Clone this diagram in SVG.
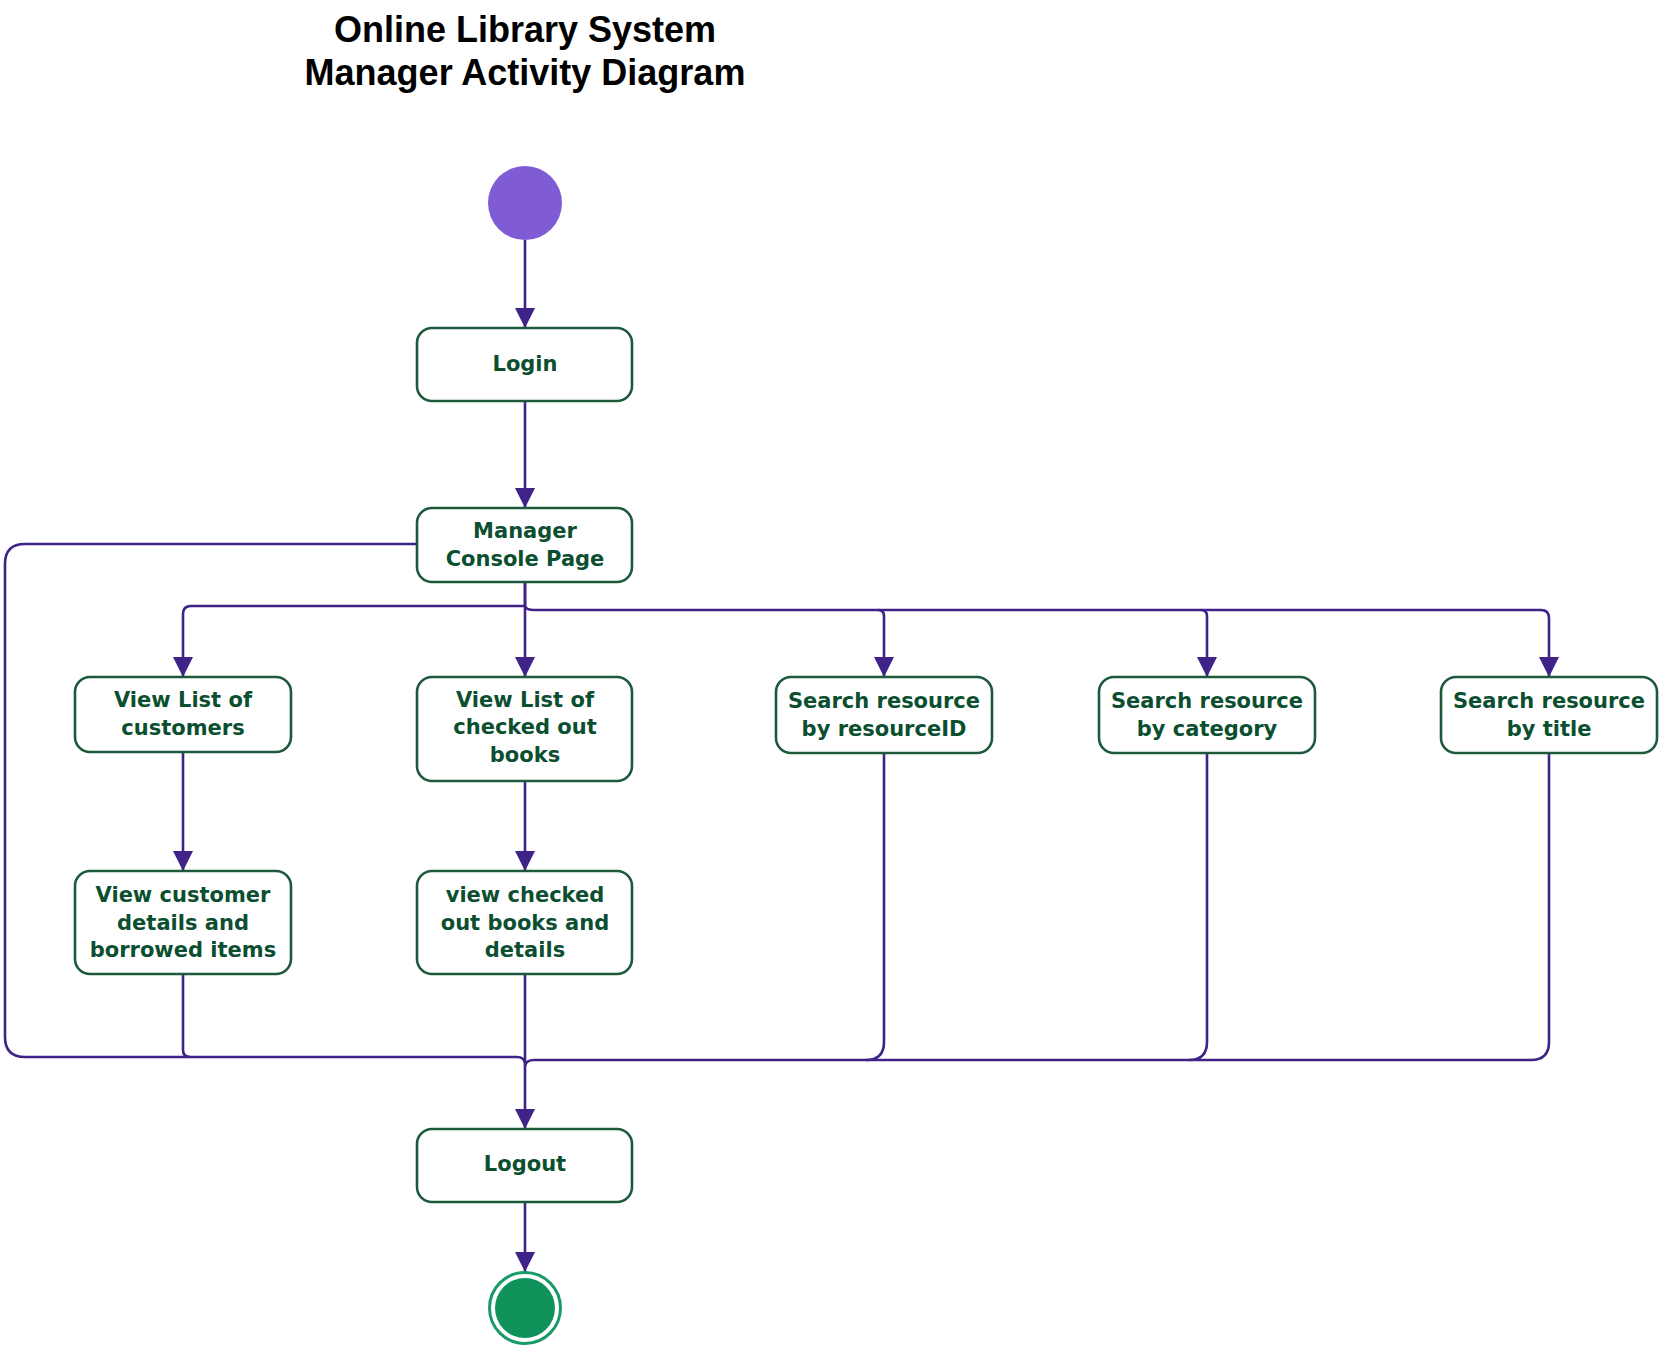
<svg xmlns="http://www.w3.org/2000/svg" width="1666" height="1347" viewBox="0 0 1666 1347">
<defs>
<style>
.title{font-family:"Liberation Sans",Arial,sans-serif;font-weight:bold;font-size:36px;fill:#000;text-anchor:middle}
.box{fill:#fff;stroke:#1d5a3c;stroke-width:2.6}
.lbl{font-family:"DejaVu Sans",Verdana,sans-serif;font-weight:bold;font-size:21px;fill:#0b4f30;text-anchor:middle}
.edge{fill:none;stroke:#3f2389;stroke-width:2.6;stroke-linejoin:round}
</style>
<marker id="arr" markerWidth="20" markerHeight="20" refX="20" refY="10" orient="auto" markerUnits="userSpaceOnUse">
<path d="M0,0 L20,10 L0,20 z" fill="#3f2389"/>
</marker>
</defs>
<rect width="1666" height="1347" fill="#fff"/>
<g id="title">
<text class="title" x="525" y="42">Online Library System</text>
<text class="title" x="525" y="85">Manager Activity Diagram</text>
</g>
<g id="connectors">
<path class="edge" d="M525 240 V328" marker-end="url(#arr)"/>
<path class="edge" d="M525 401 V508" marker-end="url(#arr)"/>
<path class="edge" d="M525 582 V606 H191 Q183 606 183 614 V677" marker-end="url(#arr)"/>
<path class="edge" d="M525 582 V677" marker-end="url(#arr)"/>
<path class="edge" d="M525 606 Q526 610 534 610 H1541 Q1549 610 1549 618 V677" marker-end="url(#arr)"/>
<path class="edge" d="M878 610 Q884 610 884 616 V677" marker-end="url(#arr)"/>
<path class="edge" d="M1201 610 Q1207 610 1207 616 V677" marker-end="url(#arr)"/>
<path class="edge" d="M183 752 V871" marker-end="url(#arr)"/>
<path class="edge" d="M525 781 V871" marker-end="url(#arr)"/>
<path class="edge" d="M416 544 H25 Q5 544 5 564 V1037 Q5 1057 25 1057 H517 Q524 1057 525 1063"/>
<path class="edge" d="M183 974 V1050 Q183 1057 190 1057"/>
<path class="edge" d="M525 974 V1129" marker-end="url(#arr)"/>
<path class="edge" d="M1549 753 V1042 Q1549 1060 1531 1060 H534 Q526 1060 525 1066"/>
<path class="edge" d="M884 753 V1042 Q884 1060 866 1060"/>
<path class="edge" d="M1207 753 V1042 Q1207 1060 1189 1060"/>
<path class="edge" d="M525 1202 V1272" marker-end="url(#arr)"/>
</g>
<g id="start">
<circle cx="525" cy="203" r="37" fill="#7f5bd5"/>
</g>
<g id="login">
<rect class="box" x="417" y="328" width="215" height="73" rx="15"/>
<text class="lbl" x="525" y="371">Login</text>
</g>
<g id="manager-console">
<rect class="box" x="417" y="508" width="215" height="74" rx="15"/>
<text class="lbl" x="525" y="538">Manager</text>
<text class="lbl" x="525" y="566">Console Page</text>
</g>
<g id="view-customers">
<rect class="box" x="75" y="677" width="216" height="75" rx="15"/>
<text class="lbl" x="183" y="707">View List of</text>
<text class="lbl" x="183" y="735">customers</text>
</g>
<g id="view-checked-out">
<rect class="box" x="417" y="677" width="215" height="104" rx="15"/>
<text class="lbl" x="525" y="707">View List of</text>
<text class="lbl" x="525" y="734">checked out</text>
<text class="lbl" x="525" y="762">books</text>
</g>
<g id="search-id">
<rect class="box" x="776" y="677" width="216" height="76" rx="15"/>
<text class="lbl" x="884" y="708">Search resource</text>
<text class="lbl" x="884" y="736">by resourceID</text>
</g>
<g id="search-category">
<rect class="box" x="1099" y="677" width="216" height="76" rx="15"/>
<text class="lbl" x="1207" y="708">Search resource</text>
<text class="lbl" x="1207" y="736">by category</text>
</g>
<g id="search-title">
<rect class="box" x="1441" y="677" width="216" height="76" rx="15"/>
<text class="lbl" x="1549" y="708">Search resource</text>
<text class="lbl" x="1549" y="736">by title</text>
</g>
<g id="customer-details">
<rect class="box" x="75" y="871" width="216" height="103" rx="15"/>
<text class="lbl" x="183" y="902">View customer</text>
<text class="lbl" x="183" y="930">details and</text>
<text class="lbl" x="183" y="957">borrowed items</text>
</g>
<g id="checked-details">
<rect class="box" x="417" y="871" width="215" height="103" rx="15"/>
<text class="lbl" x="525" y="902">view checked</text>
<text class="lbl" x="525" y="930">out books and</text>
<text class="lbl" x="525" y="957">details</text>
</g>
<g id="logout">
<rect class="box" x="417" y="1129" width="215" height="73" rx="15"/>
<text class="lbl" x="525" y="1171">Logout</text>
</g>
<g id="end">
<circle cx="525" cy="1308" r="35.5" fill="#fff" stroke="#1a9a66" stroke-width="3"/>
<circle cx="525" cy="1308" r="30" fill="#0f935a"/>
</g>
</svg>
